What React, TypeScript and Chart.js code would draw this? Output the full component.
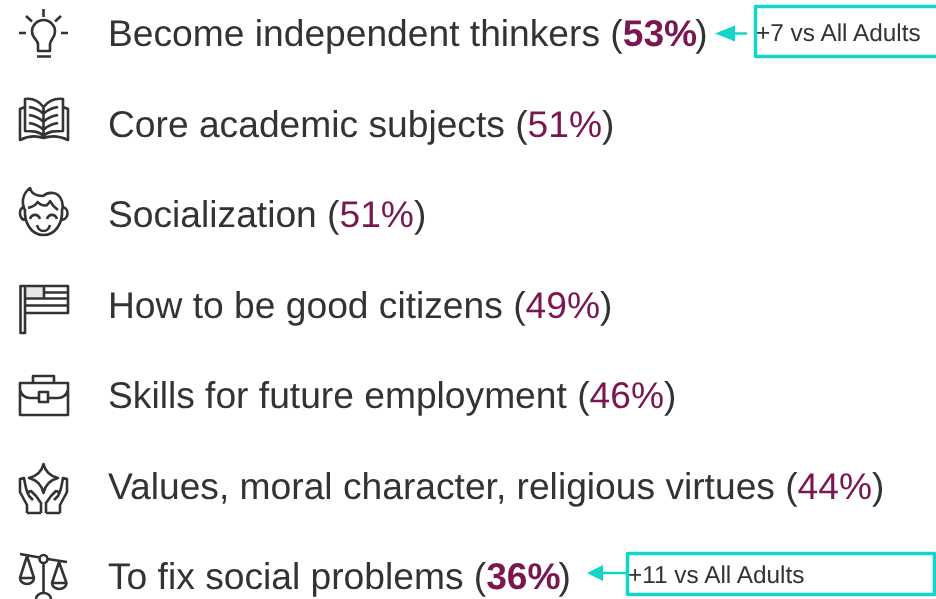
import React, { useEffect, useRef } from "react";
import { Chart, registerables } from "chart.js";

Chart.register(...registerables);

const categories = [
  "Become independent thinkers",
  "Core academic subjects",
  "Socialization",
  "How to be good citizens",
  "Skills for future employment",
  "Values, moral character, religious virtues",
  "To fix social problems",
];
const shares = [53, 51, 51, 49, 46, 44, 36];
const highlighted = [true, false, false, false, false, false, true];
const gaps: (number | null)[] = [7, null, null, null, null, null, 11];
const gapSuffix = " vs All Adults";

const INK = "#333333";
const PLUM = "#7a1650";
const TEAL = "#10d5c8";
const FONT = '"Liberation Sans", Arial, sans-serif';
const ROW_Y0 = 33;
const ROW_STEP = 90.5;

const iconPaths: string[] = [
  "M43.5,9V17 M26,16L32,21.5 M61,16L55,21.5 M19,33H26 M61,33H68 M38,51V44C38,40 32,38 32,31.5A11.5,11.5 0 0 1 55,31.5C55,38 50,40 50,44V51Z M37,56.5H51",
  "M25,107L20,109V140Q32,134 43.5,138Q55,134 68,140V109L63,107 M43.5,136V107C38,100 32,98 25,99V131C32,131 39,131 43.5,136Z M43.5,136C48,131 55,131 63,131V99C55,98 49,100 43.5,107 M43.5,114C40,110 35,108 29,107 M43.5,122C40,118 35,116 29,115 M43.5,130C40,126 35,124 29,123 M43.5,114C47,110 52,108 58,107 M43.5,122C47,118 52,116 58,115 M43.5,130C47,126 52,124 58,123",
  "M25,209C24,224 32,235 43.5,235C55,235 63,224 62,209 M25,207C21,207 19.5,211 20,214C20.5,218 23,220 26,220 M62,207C66,207 68,211 67.5,214C67,218 64,220 61,220 M25.5,211C21,204 22,194 30,188C31,193 36,196 43,196C49,191 58,192 61,199C63,203 63,207 62,211 M28,208C32,207 36,205 37.5,202C41,205 45,206 47,205C48,204 50,202 50,201C52,205 55,208 58,210 M30,219C32,213.5 38,213.5 40,219 M47,219C49,213.5 55,213.5 57,219 M37,225C39,233 48,233 50,225",
  "M20.5,286H25V333H20.5Z M25,286H68V313H25 M44,286V298 M25,298.5H68 M44,292.5H68 M25,305.5H68",
  "M20,383H68V415H20Z M33,383V376H54V383 M20,390C22,396 25,398 30,398H39 M48,398H58C63,398 66,396 68,390 M39,392H48V402H39Z",
  "M43.5,464Q46,475 58,478Q46,481 43.5,493Q41,481 29,478Q41,475 43.5,464Z M27,513V505L20,492V479L24,478C25,484 26,490 28,494 M41,513V503L36,496L31,491C29,491 27,493 29,496L33,500 M27,513H41 M60,513V505L67,492V479L63,478C62,484 61,490 59,494 M46,513V503L51,496L56,491C58,491 60,493 58,496L54,500 M46,513H60",
  "M20,554L39.5,557.5 M47.5,559L67,562 M43.5,563V594 M36,599A7.5,6 0 0 1 51,599 M27,556L20,578H34Z M20,578A7,6 0 0 0 34,578 M59,562L52,583H66.5Z M52,583A7.2,6 0 0 0 66.5,583 M47.5,559A4,4 0 1 1 39.5,559A4,4 0 1 1 47.5,559",
];
const iconFills: string[] = ["", "", "", "M25,286H44V298H25Z", "", "", ""];

const listPlugin = {
  id: "listPlugin",
  afterDatasetsDraw(chart: Chart) {
    const { ctx, scales } = chart;
    const y = scales.y;
    ctx.save();
    (ctx as any).textRendering = "geometricPrecision";
    categories.forEach((category, i) => {
      const cy = y.getPixelForValue(i);
      // icon
      ctx.save();
      ctx.translate(0, cy - (ROW_Y0 + ROW_STEP * i));
      if (iconFills[i]) {
        ctx.fillStyle = "#e6e6e6";
        ctx.fill(new Path2D(iconFills[i]));
      }
      ctx.strokeStyle = INK;
      ctx.lineWidth = 2.6;
      ctx.lineJoin = "round";
      ctx.stroke(new Path2D(iconPaths[i]));
      ctx.restore();

      // label
      ctx.textBaseline = "alphabetic";
      let x = 108;
      const base = cy + 13;
      const regular = `37.2px ${FONT}`;
      const bold = `bold 37.2px ${FONT}`;
      ctx.font = regular;
      ctx.fillStyle = INK;
      const lead = `${category} (`;
      ctx.fillText(lead, x, base);
      x += ctx.measureText(lead).width;
      const pct = `${shares[i]}%`;
      ctx.font = highlighted[i] ? bold : regular;
      ctx.fillStyle = PLUM;
      ctx.fillText(pct, x, base);
      x += ctx.measureText(pct).width - (highlighted[i] ? 2 : 0);
      ctx.font = regular;
      ctx.fillStyle = INK;
      ctx.fillText(")", x, base);

      // comparison call-out
      const gap = gaps[i];
      if (gap !== null) {
        const first = i === 0;
        const boxX = first ? 755.5 : 627.5;
        const boxTop = cy + (first ? -26.5 : -22.5);
        const boxH = first ? 50 : 41;
        const boxW = first ? 200 : 307;
        const tipX = first ? 715 : 587;
        const baseX = first ? 735 : 603;
        const shaftEnd = first ? 747 : 627;
        const ay = cy + (first ? 0.5 : -3);
        ctx.strokeStyle = TEAL;
        ctx.fillStyle = TEAL;
        ctx.lineWidth = 3.5;
        ctx.lineJoin = "round";
        ctx.strokeRect(boxX, boxTop, boxW, boxH);
        ctx.lineWidth = 2.5;
        ctx.beginPath();
        ctx.moveTo(baseX - 2, ay);
        ctx.lineTo(shaftEnd, ay);
        ctx.stroke();
        ctx.beginPath();
        ctx.moveTo(tipX, ay);
        ctx.lineTo(baseX, ay - 8);
        ctx.lineTo(baseX, ay + 8);
        ctx.closePath();
        ctx.fill();
        ctx.font = `24.4px ${FONT}`;
        ctx.fillStyle = INK;
        ctx.fillText(`+${gap}${gapSuffix}`, first ? 756 : 628, first ? cy + 8 : cy + 7);
      }
    });
    ctx.restore();
  },
};

export default function App() {
  const ref = useRef<HTMLCanvasElement>(null);
  useEffect(() => {
    const chart = new Chart(ref.current!, {
      type: "scatter",
      data: {
        labels: categories,
        datasets: [
          {
            label: "Share",
            data: shares.map((v, i) => ({ x: v, y: i })),
            pointRadius: 0,
          },
        ],
      },
      options: {
        responsive: false,
        animation: false,
        layout: { padding: 0 },
        plugins: { legend: { display: false }, tooltip: { enabled: false } },
        scales: {
          x: { display: false, min: 0, max: 100 },
          y: {
            display: false,
            reverse: true,
            min: -ROW_Y0 / ROW_STEP,
            max: (599 - ROW_Y0) / ROW_STEP,
          },
        },
      },
      plugins: [listPlugin],
    });
    return () => chart.destroy();
  }, []);
  return (
    <div style={{ position: "fixed", left: 0, top: 0, width: 936, height: 599, background: "#fff" }}>
      <canvas ref={ref} width={936} height={599} style={{ display: "block" }} />
    </div>
  );
}
